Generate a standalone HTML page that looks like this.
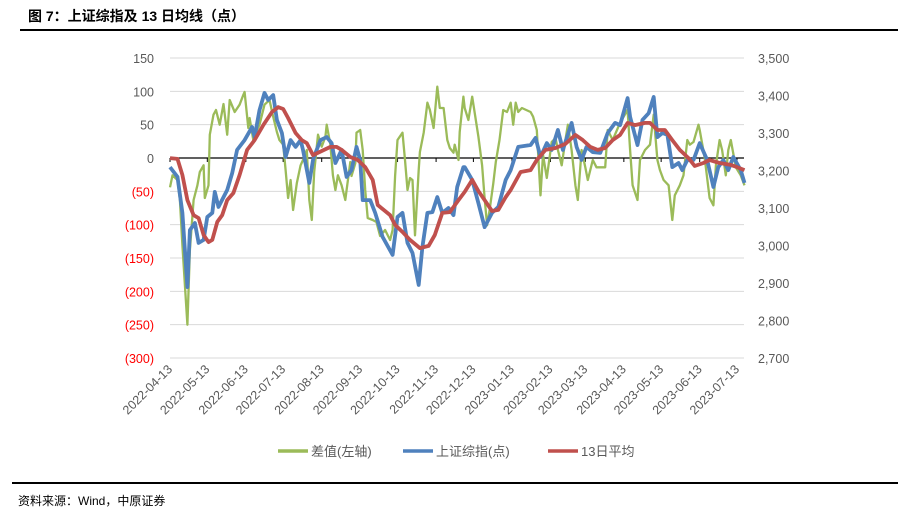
<!DOCTYPE html>
<html><head><meta charset="utf-8">
<style>
body{margin:0;background:#fff;width:904px;height:499px;overflow:hidden;font-family:"Liberation Sans","Noto Sans CJK SC",sans-serif;}
#title{position:absolute;left:28px;top:6px;font-size:14px;font-weight:bold;color:#000;}
#topline{position:absolute;left:20px;top:29px;width:878px;height:2px;background:#000;}
#botline{position:absolute;left:12px;top:482px;width:886px;height:2px;background:#000;}
#source{position:absolute;left:18px;top:492px;font-size:12px;color:#000;}
svg{position:absolute;left:0;top:0;}
</style></head><body>
<div id="title">图 7：上证综指及 13 日均线（点）</div>
<div id="topline"></div>
<div id="botline"></div>
<div id="source">资料来源：Wind，中原证券</div>
<svg id="chart" width="904" height="499"></svg>
<script>
const leftTicks=[150,100,50,0,-50,-100,-150,-200,-250,-300];
const rightTicks=[3500,3400,3300,3200,3100,3000,2900,2800,2700];
const dateLabels=["2022-04-13","2022-05-13","2022-06-13","2022-07-13","2022-08-13","2022-09-13","2022-10-13","2022-11-13","2022-12-13","2023-01-13","2023-02-13","2023-03-13","2023-04-13","2023-05-13","2023-06-13","2023-07-13"];
const tickDays=[0,30,61,91,122,153,183,214,244,275,306,334,365,395,426,456];
const blueDays=[0,6,10,14,16,20,23,27,30,34,36,39,46,50,54,60,66,68,72,76,79,83,86,90,93,97,101,105,107,112,115,117,121,126,130,133,138,142,146,150,153,155,161,165,171,179,183,187,191,195,200,203,207,211,215,219,224,228,231,236,237,243,248,253,259,264,270,274,280,290,294,298,303,307,312,316,323,327,331,335,340,346,352,358,362,368,370,376,380,385,389,392,396,400,404,409,412,416,421,426,432,437,441,445,449,453,459,462];
const blueVals=[3209,3183,3087,2889,3041,3060,3007,3015,3076,3087,3143,3103,3148,3193,3255,3281,3316,3289,3361,3407,3388,3401,3335,3300,3236,3281,3263,3281,3255,3167,3228,3247,3281,3289,3273,3220,3255,3183,3201,3263,3228,3121,3121,3087,3023,2975,3076,3087,3007,2980,2895,2996,3087,3089,3129,3087,3100,3081,3156,3209,3209,3175,3113,3049,3087,3103,3175,3201,3263,3268,3287,3236,3273,3255,3308,3255,3327,3263,3228,3263,3249,3247,3300,3327,3321,3393,3343,3268,3335,3353,3396,3289,3300,3295,3209,3220,3201,3228,3228,3273,3228,3156,3209,3228,3201,3236,3201,3167];
const redDays=[0,6,10,14,19,23,27,31,34,38,42,46,51,56,62,68,75,82,87,91,95,101,106,110,115,122,129,134,138,145,151,157,163,167,177,181,187,193,201,208,213,219,225,232,237,243,248,253,259,264,270,274,282,290,295,302,310,318,326,332,338,344,350,356,362,368,374,382,386,392,398,404,410,417,422,429,434,442,451,456,462];
const redVals=[3233,3231,3188,3121,3081,3073,3028,3009,3015,3063,3081,3121,3140,3188,3255,3281,3321,3356,3369,3364,3340,3300,3281,3273,3241,3252,3263,3263,3255,3236,3228,3209,3175,3108,3081,3055,3036,3015,2993,2999,3028,3087,3089,3121,3143,3175,3145,3121,3092,3095,3129,3148,3196,3201,3228,3255,3260,3271,3295,3281,3263,3255,3260,3281,3295,3327,3321,3327,3327,3308,3308,3281,3255,3233,3212,3220,3228,3220,3215,3209,3201];
const greenDays=[0,2,6,8,10,14,16,19,22,24,27,28,31,32,35,37,40,43,46,48,52,56,59,60,63,64,67,69,72,76,80,83,86,88,91,93,95,97,99,102,105,107,110,112,114,116,119,122,125,126,129,131,133,135,138,141,142,145,146,149,150,153,155,157,159,163,166,169,173,177,179,181,183,187,189,191,193,195,197,200,201,204,207,209,212,215,217,220,223,225,228,229,232,233,236,237,240,243,248,251,253,255,257,260,262,265,268,271,274,276,278,280,283,290,292,295,298,300,303,307,310,312,315,318,320,323,326,328,331,334,336,340,343,346,350,352,356,362,368,370,372,376,378,382,386,389,390,392,394,397,401,404,406,410,413,416,418,421,425,426,430,434,437,439,442,444,447,449,451,455,459,462];
const greenVals=[-44,-26,-33,-63,-131,-250,-138,-63,-41,-21,-11,-60,-41,35,65,72,50,81,35,87,69,80,95,99,45,60,27,38,50,80,87,62,39,27,20,-18,-60,-33,-78,-38,-11,-3,12,-63,-93,-21,35,17,32,50,20,-26,-48,-26,-41,-63,-48,-6,-27,-8,38,42,12,-48,-90,-93,-96,-117,-108,-123,-108,-27,27,38,-3,-48,-30,-33,-116,-18,9,38,83,72,45,107,75,75,27,15,8,20,-3,39,92,75,57,92,32,-11,-60,-101,-78,-38,-6,27,72,69,83,50,83,69,75,69,62,42,-56,5,-30,24,30,12,-11,27,50,12,-41,-63,12,-14,-33,-3,-14,-14,-14,42,27,53,72,12,-41,-63,-3,12,20,65,42,-3,-18,-33,-41,-93,-56,-41,-26,27,20,24,50,42,0,-60,-71,-11,27,12,-26,12,27,-14,-26,-41];

const NS="http://www.w3.org/2000/svg";
const svg=document.getElementById('chart');
const X0=170,X1=744,Y0=58,Y1=358;
function xd(d){return X0+d*(737-170)/456;}
function yl(v){return 158-(v)*(100/150);}
function yr(v){return Y0+(3500-v)*(Y1-Y0)/800;}
function mk(tag,attrs){const e=document.createElementNS(NS,tag);for(const k in attrs)e.setAttribute(k,attrs[k]);svg.appendChild(e);return e;}
leftTicks.forEach(v=>{
  const y=yl(v);
  if(v!==0){const g=mk('line',{x1:X0,x2:X1,y1:y,y2:y,stroke:'#d9d9d9','stroke-width':1});
  
  }
  const t=mk('text',{x:154,y:y+5,'text-anchor':'end','font-size':'12.5',fill:v<0?'#ff0000':'#595959','font-family':'"Liberation Sans",sans-serif'});
  t.textContent=v<0?'('+(-v)+')':String(v);
  
  
});
rightTicks.forEach(v=>{
  const t=mk('text',{x:758,y:yr(v)+5,'font-size':'12.5',fill:'#595959','font-family':'"Liberation Sans",sans-serif'});
  t.textContent=v.toLocaleString('en-US');
  
  
});
const ax=mk('line',{x1:X0,x2:X1,y1:yl(0),y2:yl(0),stroke:'#000','stroke-width':1.2});


tickDays.forEach((d,i)=>{
  const x=xd(d);
  const tk=mk('line',{x1:x,x2:x,y1:yl(0),y2:yl(0)+4,stroke:'#000','stroke-width':1});
  
  
  const t=mk('text',{x:x+3,y:370,'text-anchor':'end','font-size':'12.5',fill:'#595959',transform:`rotate(-45 ${x+3} 370)`,'font-family':'"Liberation Sans",sans-serif'});
  t.textContent=dateLabels[i];
  
  
});
function series(days,vals,yf,color,w,name){
  const pts=days.map((d,i)=>xd(d).toFixed(1)+','+yf(vals[i]).toFixed(1)).join(' ');
  const p=mk('polyline',{points:pts,fill:'none',stroke:color,'stroke-width':w,'stroke-linejoin':'round'});
  
  
}
series(greenDays,greenVals,yl,'#9bbb59',2.3,'diff-line');
series(blueDays,blueVals,yr,'#4f81bd',3.8,'index-line');
series(redDays,redVals,yr,'#c0504d',3.8,'ma13-line');
const leg=[['#9bbb59',278,'差值(左轴)','legend-diff'],['#4f81bd',403,'上证综指(点)','legend-index'],['#c0504d',548,'13日平均','legend-ma13']];
leg.forEach(l=>{
  const ln=mk('line',{x1:l[1],x2:l[1]+30,y1:451,y2:451,stroke:l[0],'stroke-width':3.5});
  
  
  const t=mk('text',{x:l[1]+33,y:456,'font-size':'13',fill:'#595959','font-family':'"Liberation Sans","Noto Sans CJK SC",sans-serif'});
  t.textContent=l[2];
  
  
});
</script>
</body></html>
